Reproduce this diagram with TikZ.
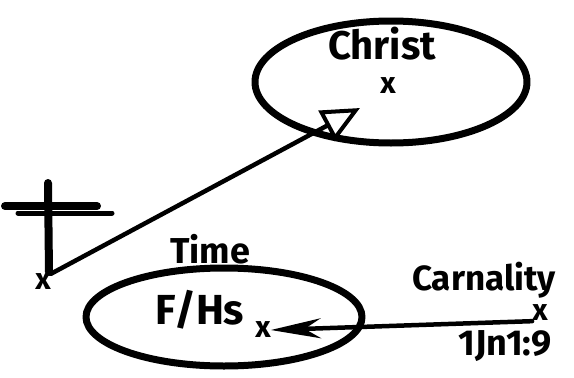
\documentclass[tikz,border=0pt]{standalone}
\usepackage{fontspec}
\setmainfont{Fira Sans}
\usetikzlibrary{arrows.meta}

\begin{document}
\begin{tikzpicture}[
        x=1pt, y=-1pt, % 1 unit = 1 pixel
        line cap=round, line join=round,
        loop/.style={line width=7pt},
        pen/.style={line width=4.5pt},
        word/.style={inner sep=0pt, font=\bfseries\fontsize{#1}{#1}\selectfont},
        xmark/.style={inner sep=0pt, font=\bfseries\fontsize{30}{30}\selectfont},
    ]
    \useasboundingbox (0,0) rectangle (574,378);
    % two ellipses
    \draw[loop] (391,82) ellipse (136 and 61);
    \draw[loop] (224,317) ellipse (138 and 49);
    % cross
    \draw[line width=8pt] (48,183) -- (49,272);
    \draw[line width=8pt] (5,206) -- (97,206);
    \draw[line width=5pt] (18,213) -- (112,213);
    % labels
    \node[word=40] (christ) at (382,44) {Christ};
    \node[xmark] (xc) at (388,86) {x};
    \node[word=36] (time) at (210,249) {Time};
    \node[word=42] (fh) at (200,310) {F/Hs};
    \node[xmark] (xfh) at (263,330) {x};
    \node[xmark] (xcross) at (43,282) {x};
    \node[word=35, anchor=west] (carn) at (412,280) {Carnality};
    \node[xmark] (xcarn) at (540,313) {x};
    \node[word=36] (ref) at (505,346) {1Jn1:9};
    % arrows
    \coordinate (tip) at (360,108);
    \draw[pen, -{Triangle[open, length=38pt, width=34pt, line width=4pt]}]
        (xcross.north east) -- (tip);
    \draw[pen, -{Stealth[length=50pt, width=20pt]}]
        (xcarn.south west) -- (xfh.east);
\end{tikzpicture}
\end{document}
